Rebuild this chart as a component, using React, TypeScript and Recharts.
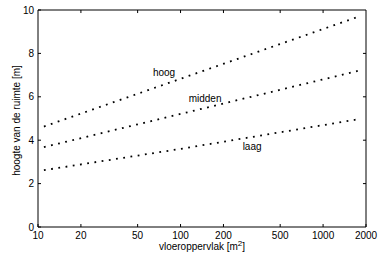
import {
  Label,
  Line,
  LineChart,
  ReferenceDot,
  ReferenceLine,
  XAxis,
  YAxis,
} from 'recharts';

// vloeroppervlak [m2] where the three curves were read
const AREA = [11, 100, 1750];
const HOOG = [4.63, 6.83, 9.68];
const MIDDEN = [3.68, 5.21, 7.19];
const LAAG = [2.62, 3.6, 4.96];

const X_TICKS = [10, 20, 50, 100, 200, 500, 1000, 2000];
const Y_TICKS = [0, 2, 4, 6, 8, 10];

// label anchors in data units
const LABELS = [
  { text: 'hoog', x: 76.6, y: 7.14 },
  { text: 'midden', x: 148.6, y: 5.94 },
  { text: 'laag', x: 317.6, y: 3.73 },
];

const data = AREA.map((a, i) => ({
  area: a,
  hoog: HOOG[i],
  midden: MIDDEN[i],
  laag: LAAG[i],
}));

const X_MIN = 10;
const X_MAX = 2000;
const Y_MIN = 0;
const Y_MAX = 10;
// inner tick length of the top / right edges, in data units (about 3px)
const TICK_Y = 0.14;
const TICK_X = 1.05;

const FONT = '"Liberation Sans", Arial, sans-serif';
const tickStyle = { fontSize: 10, fill: '#000', fontFamily: FONT };

export default function App() {
  const innerX = X_TICKS.slice(1, -1);
  const innerY = Y_TICKS.slice(1, -1);
  return (
    <div
      style={{ position: 'absolute', left: 0, top: 0, background: '#fff' }}
    >
      <LineChart
        width={378}
        height={261}
        data={data}
        margin={{ top: 10, right: 12, left: 0, bottom: 0 }}
      >
        <XAxis
          dataKey="area"
          type="number"
          scale="log"
          domain={[X_MIN, X_MAX]}
          ticks={X_TICKS}
          interval={0}
          allowDataOverflow
          height={34}
          tickSize={-3}
          tickMargin={8}
          tick={tickStyle}
          stroke="#000"
        >
          <Label
            content={({ viewBox }: any) => (
              <text
                x={viewBox.x + viewBox.width / 2}
                y={viewBox.y + 23}
                textAnchor="middle"
                fontSize={10}
                fontFamily={FONT}
                fill="#000"
              >
                vloeroppervlak [m
                <tspan fontSize={8} dy={-4}>2</tspan>
                <tspan dy={4}>]</tspan>
              </text>
            )}
          />
        </XAxis>
        <YAxis
          type="number"
          domain={[Y_MIN, Y_MAX]}
          ticks={Y_TICKS}
          interval={0}
          width={38}
          tickSize={-3}
          tickMargin={7}
          tick={tickStyle}
          stroke="#000"
        >
          <Label
            content={({ viewBox }: any) => {
              const cx = 17;
              const cy = viewBox.y + viewBox.height / 2 + 2;
              return (
                <text
                  x={cx}
                  y={cy}
                  transform={`rotate(-90, ${cx}, ${cy})`}
                  textAnchor="middle"
                  dominantBaseline="middle"
                  fontSize={10}
                  fontFamily={FONT}
                  fill="#000"
                >
                  hoogte van de ruimte [m]
                </text>
              );
            }}
          />
        </YAxis>

        {/* top and right edges of the box, with inward ticks */}
        <ReferenceLine y={Y_MAX} stroke="#000" strokeWidth={1} />
        <ReferenceLine x={X_MAX} stroke="#000" strokeWidth={1} />
        {innerX.map((t) => (
          <ReferenceLine
            key={`tx${t}`}
            segment={[
              { x: t, y: Y_MAX },
              { x: t, y: Y_MAX - TICK_Y },
            ]}
            stroke="#000"
          />
        ))}
        {innerY.map((t) => (
          <ReferenceLine
            key={`ty${t}`}
            segment={[
              { x: X_MAX, y: t },
              { x: X_MAX / TICK_X, y: t },
            ]}
            stroke="#000"
          />
        ))}

        {(['hoog', 'midden', 'laag'] as const).map((k) => (
          <Line
            key={k}
            dataKey={k}
            type="linear"
            stroke="#000"
            strokeWidth={1.8}
            strokeDasharray="1.8 5.5"
            dot={false}
            activeDot={false}
            isAnimationActive={false}
          />
        ))}
        {LABELS.map((l) => (
          <ReferenceDot
            key={l.text}
            x={l.x}
            y={l.y}
            r={0}
            fill="none"
            stroke="none"
            label={{
              value: l.text,
              position: 'center',
              fontSize: 10,
              fontFamily: FONT,
              fill: '#000',
            }}
          />
        ))}
      </LineChart>
    </div>
  );
}
